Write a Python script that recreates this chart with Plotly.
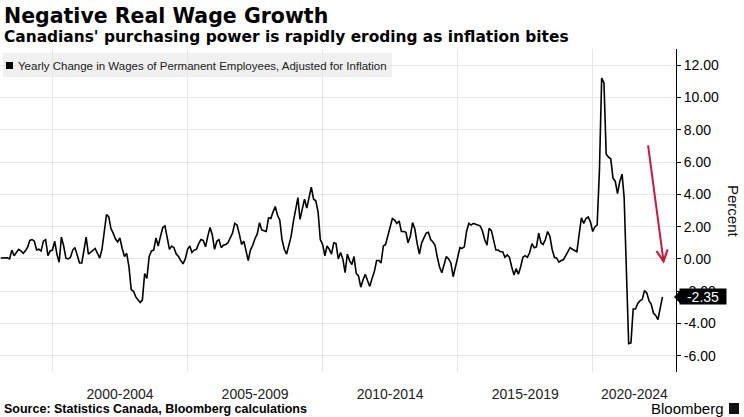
import pandas as pd
import plotly.graph_objects as go

# ---------------- data (monthly, Jan 1998 - Jul 2022) ----------------
v_1998_1999 = [0.06, 0.07, 0.05, 0.07, 0.0, 0.55, 0.2, 0.45, 0.6, 0.5, 0.35, 0.5,
               0.75, 1.15, 1.2, 1.1, 0.55, 0.6, 0.5, 1.1, 1.2, 0.2, 0.5, 0.55]
v_2000_2004 = [1.1, 0.3, -0.2, 1.35, 0.8, 0.05, 0.0, 0.1, 0.55, 0.7, 0.3, -0.25,
               -0.25, 0.5, 1.35, 0.3, 0.4, 0.55, 0.65, 0.35, 0.05, 0.6, 1.6, 2.75,
               2.6, 1.9, 1.6, 1.25, 1.05, 1.3, 0.65, 0.15, 0.35, -0.5, -1.9, -2.0,
               -2.35, -2.55, -2.7, -2.55, -0.9, -1.2, 0.15, 0.5, 0.55, 1.3, 0.8, 1.4,
               1.95, 2.05, 1.3, 0.6, 0.8, 0.7, 0.3, 0.15, -0.1, -0.3, 0.0, 0.6]
v_2005_2009 = [0.8, 0.4, 0.55, 0.6, 0.95, 1.2, 1.15, 0.75, 1.4, 1.95, 1.5, 0.6,
               1.1, 1.2, 0.7, 0.85, 0.9, 1.0, 1.3, 1.6, 2.2, 2.1, 1.55, 0.9,
               1.1, 0.6, -0.1, 0.55, 0.85, 1.25, 1.55, 2.25, 1.8, 1.75, 1.7, 2.55,
               2.5, 2.9, 3.25, 2.7, 2.4, 1.2, 0.6, 0.3, 0.8, 1.4, 2.3, 3.0,
               3.8, 2.45, 3.1, 3.7, 3.15, 3.9, 4.45, 3.7, 3.6, 2.9, 1.2, 0.9]
v_2010_2014 = [0.2, 0.8, 0.6, 0.3, 1.0, 0.95, 0.0, 0.4, 0.0, -0.85, 0.3, -0.1,
               -0.35, 0.15, -0.9, -1.05, -1.75, -1.3, -0.95, -1.35, -1.7, -1.2, -0.8, -0.1,
               -0.1, -0.25, 0.8, 0.9, 1.45, 2.0, 2.5, 2.4, 2.2, 2.35, 1.7, 1.7,
               1.65, 1.0, 1.4, 2.25, 1.85, 1.0, 0.3, 1.0, 1.35, 1.6, 1.65, 1.2,
               1.05, 0.85, 0.1, -0.5, -0.85, -0.3, 0.15, 0.0, -0.25, -1.1, -0.5, 0.15]
v_2015_2019 = [0.7, 0.65, 0.75, 1.7, 2.2, 2.1, 2.2, 2.15, 2.1, 2.05, 1.75, 1.2,
               0.85, 1.9, 1.75, 1.2, 0.55, 0.55, 0.45, 0.45, 0.1, 0.25, 0.1, -0.5,
               -1.0, -0.6, -0.95, -0.5, 0.1, 0.2, 0.1, 0.4, 0.95, 0.7, 0.75, 1.6,
               1.0, 0.9, 1.2, 1.7, 1.4, 0.6, 0.1, 0.05, -0.2, -0.1, -0.05, 0.2,
               0.5, 0.7, 0.6, 0.5, 0.45, 1.5, 2.55, 2.2, 2.5, 2.6, 2.3, 1.7]
v_2020_2022 = [2.0, 2.1, 5.5, 11.2, 10.9, 6.5, 6.3, 6.2, 5.0, 4.8, 4.05, 4.8,
               5.25, 3.8, -1.2, -5.25, -5.2, -3.1, -3.1, -2.75, -2.6, -2.5, -1.95, -2.1,
               -2.6, -2.8, -3.35, -3.5, -3.75, -3.05, -2.35]

values = v_1998_1999 + v_2000_2004 + v_2005_2009 + v_2010_2014 + v_2015_2019 + v_2020_2022
dates = pd.date_range("1998-01-01", periods=len(values), freq="MS") + pd.offsets.MonthEnd(0)

period_labels = ["2000-2004", "2005-2009", "2010-2014", "2015-2019", "2020-2024"]
period_label_pos = ["2002-07-02", "2007-07-02", "2012-07-01", "2017-07-02", "2021-07-16"]
period_bounds = ["2000-01-01", "2005-01-01", "2010-01-01", "2015-01-01", "2020-01-01"]

y_tickvals = [-6, -4, -2, 0, 2, 4, 6, 8, 10, 12]
y_ticktext = ["-6.00", "-4.00", "-2.00", "0.00", "2.00", "4.00", "6.00", "8.00", "10.00", "12.00"]

last_label = "-2.35"

# ---------------- layout helpers ----------------
W, H = 744, 417
ML, MR, MT, MB = 0, 68, 49, 45
PW, PH = W - ML - MR, H - MT - MB


def px(xp):
    return (xp - ML) / PW


def py(yp):
    return (H - MB - yp) / PH


FONT = "Arial, Liberation Sans, sans-serif"
BOLD_FONT = "DejaVu Sans, Verdana, sans-serif"

fig = go.Figure()
fig.add_trace(go.Scatter(x=dates, y=values, mode="lines",
                         line=dict(color="black", width=1.6),
                         hoverinfo="skip", showlegend=False))

fig.update_layout(
    width=W, height=H,
    margin=dict(l=ML, r=MR, t=MT, b=MB),
    plot_bgcolor="white", paper_bgcolor="white",
    font=dict(family=FONT, color="black"),
    showlegend=False,
    xaxis=dict(
        range=["1998-01-21", "2023-01-30"],
        tickmode="array", tickvals=period_label_pos, ticktext=period_labels,
        ticks="", showgrid=False, zeroline=False, showline=False,
        tickfont=dict(size=14, color="#222"),
        ticklabelstandoff=12,
        minor=dict(tickmode="array", tickvals=period_bounds, showgrid=True,
                   gridcolor="#e6e6e6", gridwidth=1, ticks=""),
    ),
    yaxis=dict(
        side="right", range=[-7, 13],
        tickmode="array", tickvals=y_tickvals, ticktext=y_ticktext,
        showgrid=True, gridcolor="#e6e6e6", gridwidth=1, zeroline=False,
        showline=True, linecolor="black", linewidth=1,
        ticks="outside", ticklen=4, tickcolor="black",
        tickfont=dict(size=14, color="black"),
    ),
)

shapes = [
    # legend box
    dict(type="rect", xref="paper", yref="paper", x0=px(3), x1=px(392), y0=py(77), y1=py(53),
         fillcolor="#f0f0f0", line=dict(width=0), layer="between"),
    dict(type="rect", xref="paper", yref="paper", x0=px(6), x1=px(13), y0=py(69), y1=py(62),
         fillcolor="black", line=dict(width=0), layer="above"),
    # pointer of the last-value tag
    dict(type="path", xref="paper", yref="y",
         path=f"M {px(674)},-2.35 L {px(680)},-1.95 L {px(680)},-2.75 Z",
         fillcolor="black", line=dict(width=0), layer="above"),
    # Bloomberg logo mark
    dict(type="rect", xref="paper", yref="paper", x0=px(729), x1=px(739), y0=py(414), y1=py(403),
         fillcolor="#111", line=dict(width=0), layer="above"),
]

annotations = [
    dict(text="<b>Negative Real Wage Growth</b>", xref="paper", yref="paper",
         x=px(2), y=py(16), xanchor="left", yanchor="middle", showarrow=False,
         font=dict(size=20.5, color="black", family=BOLD_FONT)),
    dict(text="<b>Canadians' purchasing power is rapidly eroding as inflation bites</b>",
         xref="paper", yref="paper", x=px(2), y=py(37), xanchor="left", yanchor="middle",
         showarrow=False, font=dict(size=15.4, color="black", family=BOLD_FONT)),
    dict(text="Yearly Change in Wages of Permanent Employees, Adjusted for Inflation",
         xref="paper", yref="paper", x=px(16), y=py(66), xanchor="left", yanchor="middle",
         showarrow=False, font=dict(size=11.5, color="#222", family=FONT)),
    dict(text="<b>Source: Statistics Canada, Bloomberg calculations</b>",
         xref="paper", yref="paper", x=px(2), y=py(409), xanchor="left", yanchor="middle",
         showarrow=False, font=dict(size=12.5, color="black", family=FONT)),
    dict(text="Bloomberg", xref="paper", yref="paper", x=px(726), y=py(408),
         xanchor="right", yanchor="middle", showarrow=False,
         font=dict(size=15, color="black", family=FONT)),
    dict(text="Percent", xref="paper", yref="paper", x=px(734), y=py(211),
         xanchor="center", yanchor="middle", textangle=90, showarrow=False,
         font=dict(size=15, color="#111", family=FONT)),
    dict(text=last_label, xref="paper", yref="y", x=px(679), y=values[-1],
         xanchor="left", yanchor="middle", showarrow=False, bgcolor="black",
         width=46, height=15, borderpad=0,
         font=dict(size=14, color="white", family=FONT)),
    dict(text="", x="2022-08-19", y=-0.3, xref="x", yref="y",
         showarrow=True, ax=-16, ay=-120, arrowhead=5, arrowsize=1.1,
         arrowwidth=2, arrowcolor="#c8193c", standoff=0),
]

fig.update_layout(shapes=shapes, annotations=annotations)
fig.write_html("out.html", config={"displayModeBar": False},
               post_script="document.body.style.margin='0';document.body.style.overflow='hidden';")
